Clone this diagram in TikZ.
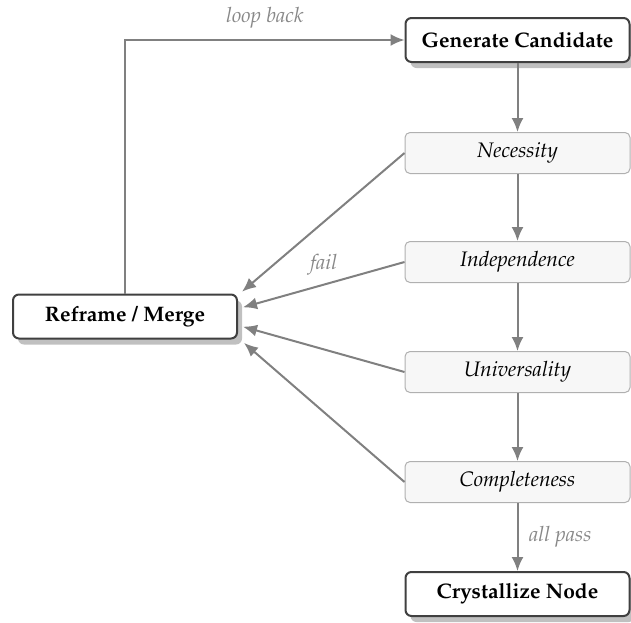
\documentclass[tikz,border=0pt]{standalone}
\usepackage[T1]{fontenc}
\usepackage{mathpazo}
\usetikzlibrary{arrows.meta,shadows,calc}
\definecolor{linegray}{HTML}{808080}
\definecolor{labelgray}{HTML}{888888}
\definecolor{boxborder}{HTML}{404040}
\definecolor{checkborder}{HTML}{B0B0B0}
\definecolor{checkfill}{HTML}{F7F7F7}
\definecolor{shadowgray}{HTML}{C0C0C0}
\begin{document}
\begin{tikzpicture}[x=0.5pt,y=-0.5pt,
  mainbox/.style={draw=boxborder, line width=1pt, rounded corners=3pt, fill=white,
    minimum width=112pt, minimum height=22pt, inner sep=0pt,
    font=\bfseries\fontsize{10.5}{12.5}\selectfont,
    drop shadow={shadow xshift=2.5pt, shadow yshift=-3pt, fill=shadowgray, opacity=1}},
  checkbox/.style={draw=checkborder, line width=0.5pt, rounded corners=2.5pt, fill=checkfill,
    minimum width=112.5pt, minimum height=20.5pt, inner sep=0pt,
    font=\itshape\fontsize{10.5}{12.5}\selectfont},
  arr/.style={draw=linegray, line width=1pt, -{Latex[length=7pt,width=6pt]}},
  lbl/.style={text=labelgray, font=\itshape\fontsize{10.5}{12.5}\selectfont}]
\useasboundingbox (0,0) rectangle (631,622);
\node[mainbox] (G) at (517.5,40) {Generate Candidate};
\node[checkbox] (N) at (517.5,153) {Necessity};
\node[checkbox] (I) at (517.5,262) {Independence};
\node[checkbox] (U) at (517.5,372) {Universality};
\node[checkbox] (C) at (517.5,482) {Completeness};
\node[mainbox] (X) at (517.5,594) {Crystallize Node};
\node[mainbox] (R) at (125,316.5) {Reframe / Merge};
\draw[arr] (G) -- (N);
\draw[arr] (N) -- (I);
\draw[arr] (I) -- (U);
\draw[arr] (U) -- (C);
\draw[arr] (C) -- node[lbl, right=2pt] {all pass} (X);
\draw[arr] (N.west) -- ([xshift=2pt,yshift=12.4pt]R.east);
\draw[arr] (I.west) -- node[lbl, above=1pt] {fail} ([xshift=2.5pt,yshift=4.6pt]R.east);
\draw[arr] (U.west) -- ([xshift=2.5pt,yshift=-5.1pt]R.east);
\draw[arr] (C.west) -- ([xshift=3pt,yshift=-13.2pt]R.east);
\draw[arr] (R.north) |- node[lbl, pos=0.75, above=2pt] {loop back} (G.west);
\end{tikzpicture}
\end{document}
